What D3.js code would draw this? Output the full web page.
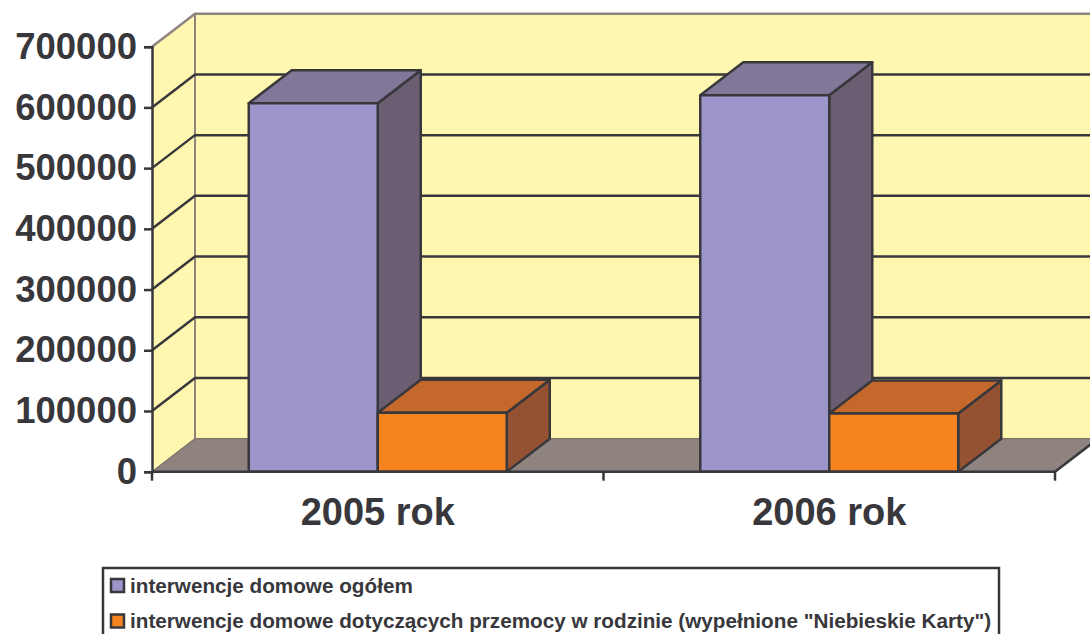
<!DOCTYPE html>
<html>
<head>
<meta charset="utf-8">
<script src="https://cdn.jsdelivr.net/npm/d3@7"></script>
<style>
  body { margin: 0; background: #fff; }
  text { font-family: "Liberation Sans", Arial, sans-serif; font-weight: bold; fill: #38373c; }
</style>
</head>
<body>
<div id="chart"></div>
<script>
// data
const categories = ["2005 rok", "2006 rok"];
const seriesNames = [
  "interwencje domowe ogółem",
  "interwencje domowe dotyczących przemocy w rodzinie (wypełnione \"Niebieskie Karty\")"
];
const ogolem = [607000, 620000];
const niebieskieKarty = [97000, 96000];
const yTicks = [0, 100000, 200000, 300000, 400000, 500000, 600000, 700000];

const width = 1090, height = 634;
const dx = 43, dy = -33; // depth of the 3d box

const colors = [
  { front: "#9b95c9", top: "#807799", side: "#6b5e72" },
  { front: "#f58420", top: "#c4682b", side: "#955233" }
];

const svg = d3.select("#chart").append("svg")
  .attr("width", width)
  .attr("height", height);

const y = d3.scaleLinear().domain([0, 700000]).range([471.7, 46.7]);
const x0 = d3.scaleBand().domain(categories).range([152, 1055]);
const x1 = d3.scaleBand().domain(d3.range(seriesNames.length))
  .range([0, x0.bandwidth()]).paddingInner(0).paddingOuter(0.75);

const left = x0.range()[0], right = x0.range()[1];
const yTop = y(700000), yBot = y(0);

const pts = a => a.map(p => p.join(",")).join(" ");

// left wall
svg.append("polygon")
  .attr("points", pts([[left, yTop], [left + dx, yTop + dy], [left + dx, yBot + dy], [left, yBot]]))
  .attr("fill", "#fff7af");
// back wall
svg.append("polygon")
  .attr("points", pts([[left + dx, yTop + dy], [right + dx, yTop + dy], [right + dx, yBot + dy], [left + dx, yBot + dy]]))
  .attr("fill", "#fff7af");
// floor
svg.append("polygon")
  .attr("points", pts([[left, yBot], [left + dx, yBot + dy], [right + dx, yBot + dy], [right, yBot]]))
  .attr("fill", "#8e837f");

// wall edges
svg.append("polyline")
  .attr("points", pts([[left, yTop], [left + dx, yTop + dy], [right + dx, yTop + dy]]))
  .attr("fill", "none").attr("stroke", "#8e8480").attr("stroke-width", 2.5);
svg.append("line")
  .attr("x1", left + dx).attr("x2", left + dx)
  .attr("y1", yTop + dy).attr("y2", yBot + dy)
  .attr("stroke", "#8e8480").attr("stroke-width", 2);
svg.append("polyline")
  .attr("points", pts([[left, yBot], [left + dx, yBot + dy], [right + dx, yBot + dy]]))
  .attr("fill", "none").attr("stroke", "#7a706c").attr("stroke-width", 1.2);
svg.append("line")
  .attr("x1", right).attr("x2", right + dx)
  .attr("y1", yBot).attr("y2", yBot + dy)
  .attr("stroke", "#38373c").attr("stroke-width", 2.5);

// gridlines
const grid = svg.append("g").attr("stroke", "#38373c").attr("stroke-width", 2.5).attr("fill", "none");
yTicks.filter(t => t > 0 && t < 700000).forEach(t => {
  grid.append("polyline")
    .attr("points", pts([[left, y(t)], [left + dx, y(t) + dy], [right + dx, y(t) + dy]]));
});

// bars
const bars = [ogolem, niebieskieKarty];
categories.forEach((c, ci) => {
  bars.forEach((vals, si) => {
    const xa = x0(c) + x1(si), xb = xa + x1.bandwidth();
    const yv = y(vals[ci]);
    const g = svg.append("g").attr("stroke", "#38373c").attr("stroke-width", 2.5).attr("stroke-linejoin", "round");
    g.append("polygon")
      .attr("points", pts([[xb, yv], [xb + dx, yv + dy], [xb + dx, yBot + dy], [xb, yBot]]))
      .attr("fill", colors[si].side);
    g.append("polygon")
      .attr("points", pts([[xa, yv], [xa + dx, yv + dy], [xb + dx, yv + dy], [xb, yv]]))
      .attr("fill", colors[si].top);
    g.append("rect")
      .attr("x", xa).attr("y", yv)
      .attr("width", xb - xa).attr("height", yBot - yv)
      .attr("fill", colors[si].front);
  });
});

// axes
const yAxis = svg.append("g").attr("transform", `translate(${left},0)`)
  .call(d3.axisLeft(y).tickValues(yTicks).tickSize(8).tickPadding(7).tickFormat(d3.format("d")));
yAxis.select(".domain").attr("stroke", "#38373c").attr("stroke-width", 2.5);
yAxis.selectAll(".tick line").attr("stroke", "#38373c").attr("stroke-width", 2.5);
yAxis.selectAll(".tick text").attr("font-size", 36.5).attr("fill", "#38373c")
  .attr("font-family", "Liberation Sans, Arial, sans-serif").attr("font-weight", "bold");

const xAxis = svg.append("g").attr("transform", `translate(0,${yBot})`);
xAxis.append("line").attr("x1", left).attr("x2", right)
  .attr("stroke", "#38373c").attr("stroke-width", 2.5);
[left, ...categories.map(c => x0(c) + x0.bandwidth())].forEach(xx => {
  xAxis.append("line").attr("x1", xx).attr("x2", xx).attr("y1", 0).attr("y2", 9)
    .attr("stroke", "#38373c").attr("stroke-width", 2.5);
});
xAxis.selectAll(".cat").data(categories).enter().append("text")
  .attr("x", d => x0(d) + x0.bandwidth() / 2)
  .attr("y", 53)
  .attr("text-anchor", "middle")
  .attr("font-size", 38)
  .text(d => d);

// legend
const legend = svg.append("g");
legend.append("rect")
  .attr("x", 103).attr("y", 568).attr("width", 896).attr("height", 80)
  .attr("fill", "#fff").attr("stroke", "#38373c").attr("stroke-width", 2.5);
seriesNames.forEach((name, i) => {
  const yy = 579 + i * 35.5;
  legend.append("rect")
    .attr("x", 111).attr("y", yy).attr("width", 13).attr("height", 13)
    .attr("fill", colors[i].front).attr("stroke", "#38373c").attr("stroke-width", 2.5);
  legend.append("text")
    .attr("x", 130).attr("y", yy + 13.5)
    .attr("font-size", 20.7)
    .text(name);
});
</script>
</body>
</html>
